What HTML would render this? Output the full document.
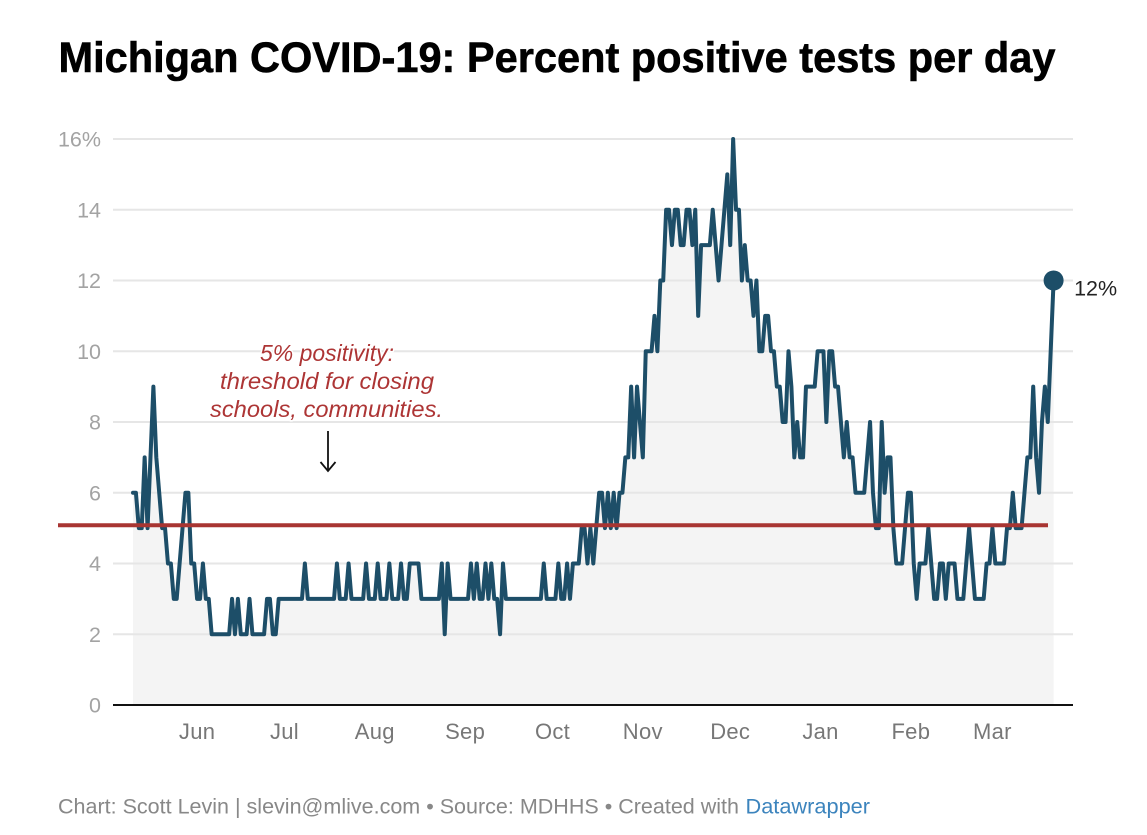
<!DOCTYPE html>
<html lang="en">
<head>
<meta charset="utf-8">
<title>Michigan COVID-19: Percent positive tests per day</title>
<style>
html,body{margin:0;padding:0;background:#fff;}
svg{display:block;font-family:"Liberation Sans",Arial,sans-serif;}
</style>
</head>
<body>
<svg id="chart" width="1147" height="835" viewBox="0 0 1147 835" xmlns="http://www.w3.org/2000/svg">
  <text x="58.5" y="72" font-size="43" font-weight="700" fill="#000" stroke="#000" stroke-width="0.6" textLength="997" lengthAdjust="spacingAndGlyphs">Michigan COVID-19: Percent positive tests per day</text>
  <g id="area-layer"></g>
  <g id="grid-layer"></g>
  <g id="line-layer"></g>
  <g id="threshold-layer"></g>
  <g id="axis-layer"></g>
  <g font-size="23" font-style="italic" fill="#ad3535" stroke="#fff" stroke-width="3" paint-order="stroke" stroke-linejoin="round">
    <text x="260" y="361" textLength="134" lengthAdjust="spacingAndGlyphs">5% positivity:</text>
    <text x="220" y="389" textLength="214" lengthAdjust="spacingAndGlyphs">threshold for closing</text>
    <text x="210" y="417" textLength="233" lengthAdjust="spacingAndGlyphs">schools, communities.</text>
  </g>
  <g fill="none" stroke="#111" stroke-width="1.8">
    <path d="M328 431V471"/>
    <path d="M320.5 462L328 471L335.5 462"/>
  </g>
  <text x="58" y="813.5" font-size="21" fill="#888" textLength="681" lengthAdjust="spacingAndGlyphs">Chart: Scott Levin | slevin@mlive.com • Source: MDHHS • Created with</text>
  <text x="745.5" y="813.5" font-size="21" fill="#3c84bd" textLength="124.5" lengthAdjust="spacingAndGlyphs">Datawrapper</text>
</svg>
<script>
const startDate = '2020-05-10';
const positivity = [
6,6,5,5,7,5,7,9,7,6,5,5,4,4,3,3,4,5,6,6,4,4,3,3,4,3,3,
2,2,2,2,2,2,2,3,2,3,2,2,2,3,2,2,2,2,2,3,3,2,2,
3,3,3,3,3,3,3,3,3,4,3,3,3,3,3,3,3,3,3,3,4,3,3,3,4,
3,3,3,3,3,4,3,3,3,4,3,3,3,4,3,3,3,4,3,3,4,4,4,4,
3,3,3,3,3,3,3,4,2,4,3,3,3,3,3,3,3,4,3,4,3,3,4,3,4,3,3,2,4,
3,3,3,3,3,3,3,3,3,3,3,3,3,4,3,3,3,3,4,3,3,4,3,4,4,4,5,5,4,5,4,
5,6,6,5,6,5,6,5,6,6,7,7,9,7,9,8,7,10,10,10,11,10,12,12,14,14,13,14,14,13,13,14,14,13,14,11,
13,13,13,13,14,13,12,13,14,15,13,16,14,14,12,13,12,12,11,12,10,10,11,11,10,10,9,9,8,8,
10,9,7,8,7,7,9,9,9,9,10,10,10,8,10,10,9,9,8,7,8,7,7,6,6,6,6,7,8,6,5,5,8,6,7,7,
5,4,4,4,5,6,6,4,3,4,4,4,5,4,3,3,4,4,3,4,4,4,3,3,3,4,5,4,3,3,3,3,4,4,5,4,4,4,4,
5,5,6,5,5,5,6,7,7,9,7,6,8,9,8,10,12
];
const yTickValues = [0, 2, 4, 6, 8, 10, 12, 14, 16];
const yTickLabels = ['0', '2', '4', '6', '8', '10', '12', '14', '16%'];
const monthLabels = ['Jun', 'Jul', 'Aug', 'Sep', 'Oct', 'Nov', 'Dec', 'Jan', 'Feb', 'Mar'];
const monthDayOffsets = [22, 52, 83, 114, 144, 175, 205, 236, 267, 295];
const thresholdValue = 5.08;
const lastValueLabel = '12%';

const NS = 'http://www.w3.org/2000/svg';
const plot = { x0: 133, x1: 1053.6, y0: 705, y1: 139, gridLeft: 113, gridRight: 1073 };
const xScale = function (day) { return plot.x0 + (plot.x1 - plot.x0) * day / (positivity.length - 1); };
const yScale = function (value) { return plot.y0 + (plot.y1 - plot.y0) * value / 16; };
function make(tag, parent) {
  const el = document.createElementNS(NS, tag);
  parent.appendChild(el);
  return el;
}

const areaLayer = document.getElementById('area-layer');
const gridLayer = document.getElementById('grid-layer');
const lineLayer = document.getElementById('line-layer');
const thresholdLayer = document.getElementById('threshold-layer');
const axisLayer = document.getElementById('axis-layer');

const linePoints = positivity.map(function (v, i) { return xScale(i).toFixed(2) + ',' + yScale(v).toFixed(2); });

const area = make('path', areaLayer);


area.setAttribute('d', 'M' + xScale(0) + ',' + yScale(0) + 'L' + linePoints.join('L') + 'L' + xScale(positivity.length - 1) + ',' + yScale(0) + 'Z');
area.setAttribute('fill', '#f4f4f4');

yTickValues.forEach(function (v, i) {
  if (v !== 0) {
    const g = make('line', gridLayer);
    
    
    g.setAttribute('x1', plot.gridLeft);
    g.setAttribute('x2', plot.gridRight);
    g.setAttribute('y1', yScale(v));
    g.setAttribute('y2', yScale(v));
    g.setAttribute('stroke', '#e6e6e6');
    g.setAttribute('stroke-width', '2');
  }
  const t = make('text', axisLayer);
  
  
  t.setAttribute('x', 101);
  t.setAttribute('y', yScale(v) + 7.7);
  t.setAttribute('text-anchor', 'end');
  t.setAttribute('font-size', '21.5');
  t.setAttribute('fill', '#a3a3a3');
  t.textContent = yTickLabels[i];
});

const line = make('polyline', lineLayer);


line.setAttribute('points', linePoints.join(' '));
line.setAttribute('fill', 'none');
line.setAttribute('stroke', '#1d4e68');
line.setAttribute('stroke-width', '4');
line.setAttribute('stroke-linejoin', 'round');
line.setAttribute('stroke-linecap', 'round');

const lastIndex = positivity.length - 1;
const dot = make('circle', lineLayer);


dot.setAttribute('cx', xScale(lastIndex));
dot.setAttribute('cy', yScale(positivity[lastIndex]));
dot.setAttribute('r', '10');
dot.setAttribute('fill', '#1d4e68');

const lastLabel = make('text', lineLayer);


lastLabel.setAttribute('x', xScale(lastIndex) + 20.5);
lastLabel.setAttribute('y', yScale(positivity[lastIndex]) + 15);
lastLabel.setAttribute('font-size', '21.5');
lastLabel.setAttribute('fill', '#222');
lastLabel.textContent = lastValueLabel;

const threshold = make('line', thresholdLayer);


threshold.setAttribute('x1', 58);
threshold.setAttribute('x2', 1048);
threshold.setAttribute('y1', yScale(thresholdValue));
threshold.setAttribute('y2', yScale(thresholdValue));
threshold.setAttribute('stroke', '#a83532');
threshold.setAttribute('stroke-width', '4');

const axis = make('line', axisLayer);


axis.setAttribute('x1', plot.gridLeft);
axis.setAttribute('x2', plot.gridRight);
axis.setAttribute('y1', yScale(0));
axis.setAttribute('y2', yScale(0));
axis.setAttribute('stroke', '#111');
axis.setAttribute('stroke-width', '2');

monthLabels.forEach(function (label, i) {
  const t = make('text', axisLayer);
  
  
  t.setAttribute('x', xScale(monthDayOffsets[i]));
  t.setAttribute('y', 739);
  t.setAttribute('text-anchor', 'middle');
  t.setAttribute('font-size', '22');
  t.setAttribute('letter-spacing', '0.3');
  t.setAttribute('fill', '#777');
  t.textContent = label;
});
</script>
</body>
</html>
